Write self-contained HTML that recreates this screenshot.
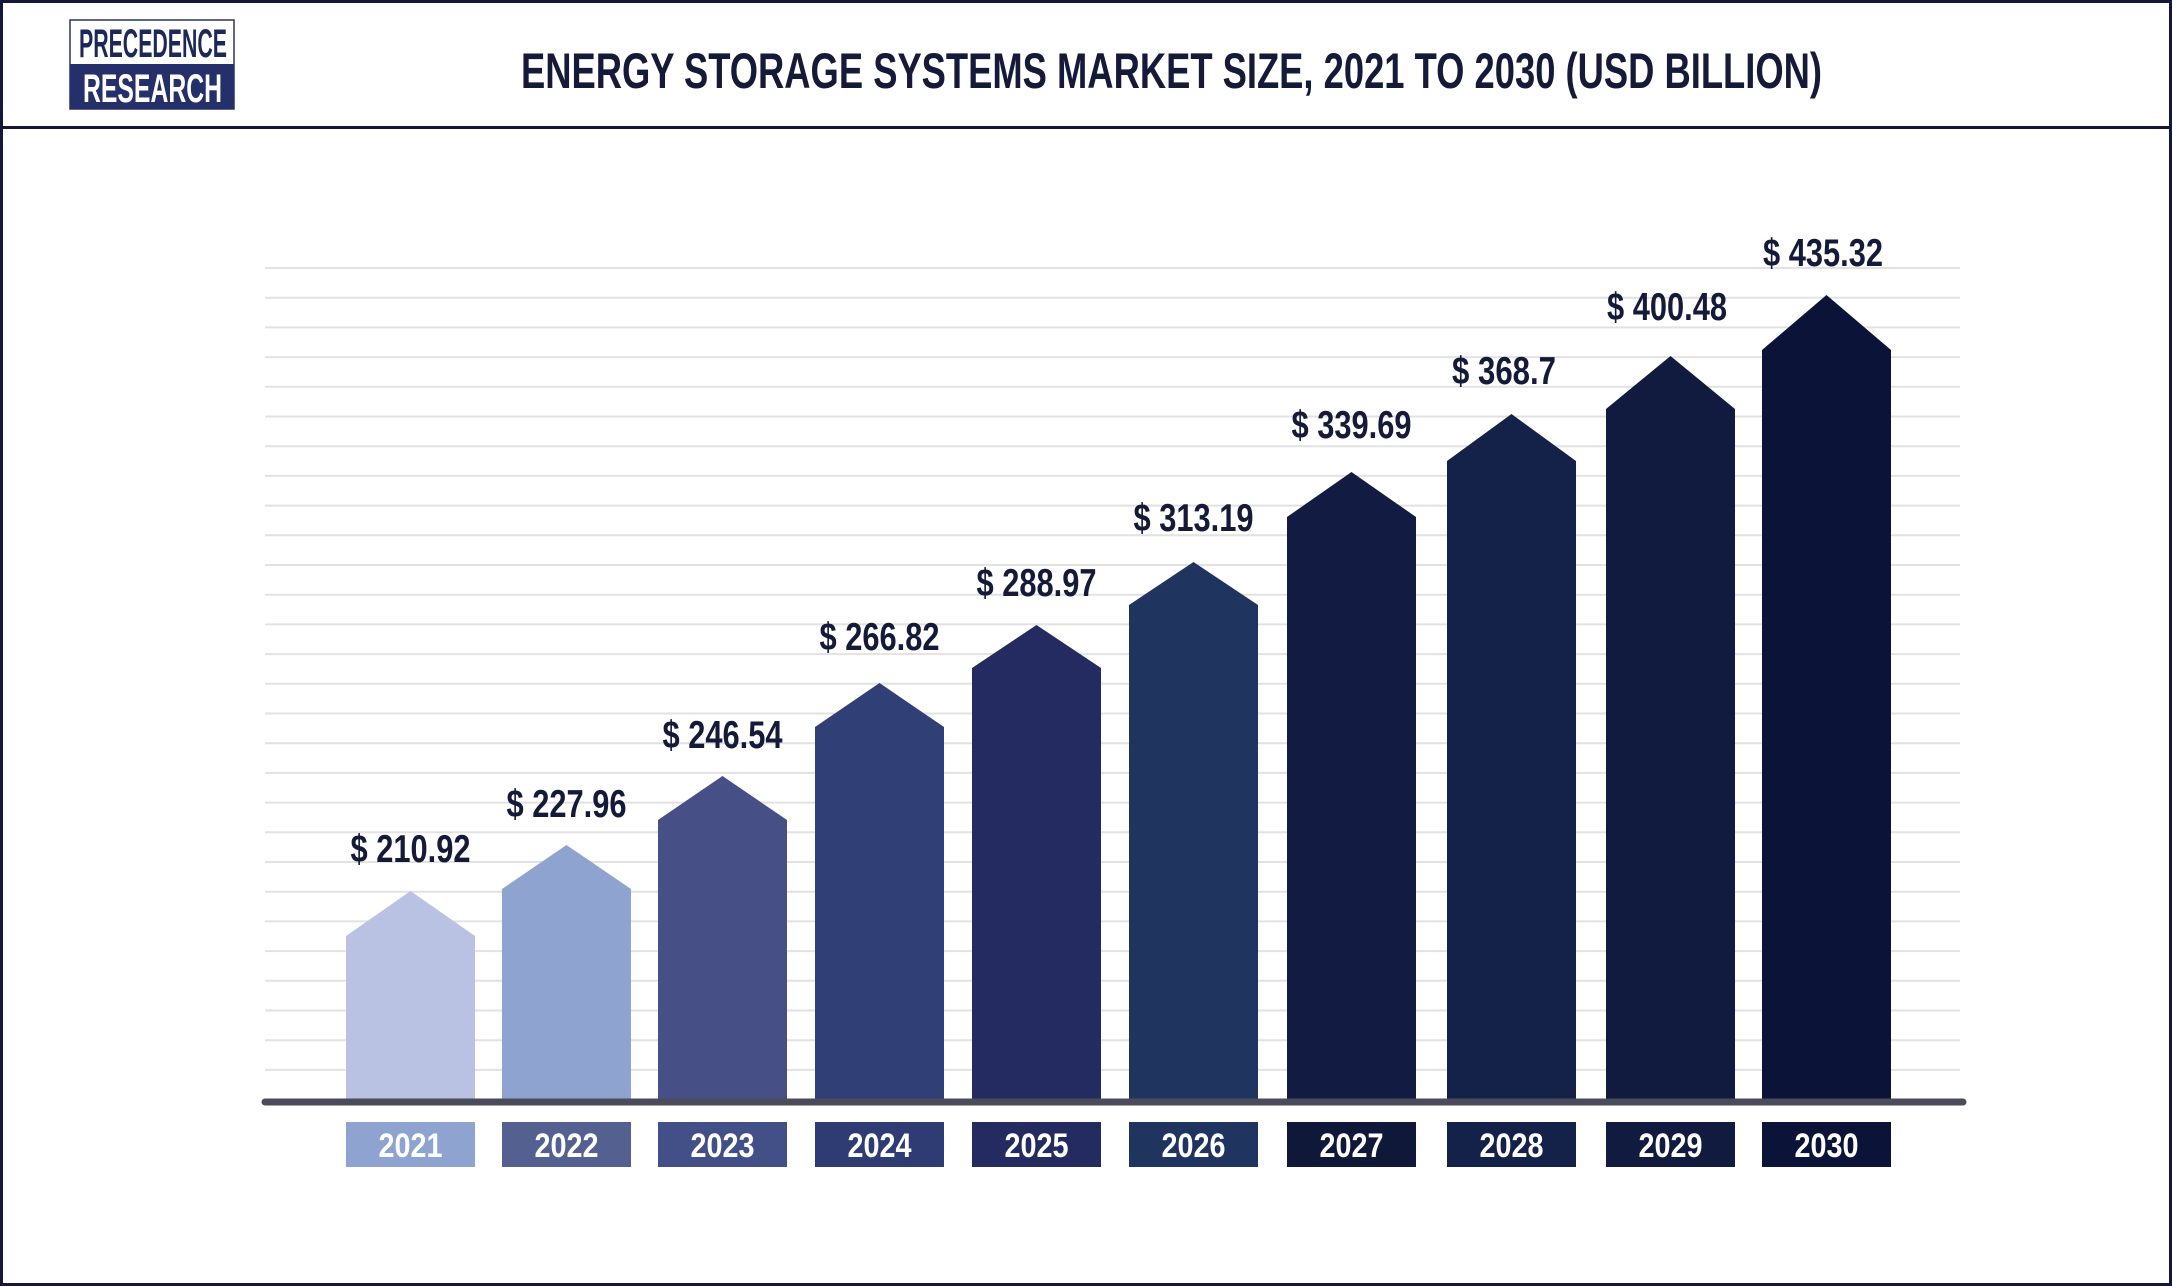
<!DOCTYPE html>
<html><head><meta charset="utf-8"><style>
html,body{margin:0;padding:0;background:#fff}
svg{display:block}
text{font-family:"Liberation Sans Narrow","Liberation Sans",sans-serif;font-weight:bold}
</style></head><body>
<svg width="2172" height="1286" viewBox="0 0 2172 1286" xmlns="http://www.w3.org/2000/svg">
<rect x="0" y="0" width="2172" height="1286" fill="#fff"/>
<rect x="1.5" y="1.5" width="2169" height="1283" fill="none" stroke="#14163a" stroke-width="3"/>
<rect x="0" y="126" width="2172" height="3" fill="#14163a"/>
<!-- logo -->
<rect x="70" y="20" width="164" height="89" fill="#fff" stroke="#2a3468" stroke-width="1.5"/>
<rect x="70" y="64" width="164" height="45" fill="#25306a"/>
<text x="153" y="57" text-anchor="middle" font-size="40" fill="#1e2858" textLength="148" lengthAdjust="spacingAndGlyphs">PRECEDENCE</text>
<text x="152.5" y="102" text-anchor="middle" font-size="40" fill="#fff" textLength="139" lengthAdjust="spacingAndGlyphs">RESEARCH</text>
<!-- title -->
<text x="521" y="88" font-size="50" fill="#141a38" textLength="1301" lengthAdjust="spacingAndGlyphs">ENERGY STORAGE SYSTEMS MARKET SIZE, 2021 TO 2030 (USD BILLION)</text>
<!-- grid -->
<g stroke="#e2e2e2" stroke-width="2">
<line x1="265" x2="1960" y1="268" y2="268"/><line x1="265" x2="1960" y1="297.7" y2="297.7"/><line x1="265" x2="1960" y1="327.4" y2="327.4"/><line x1="265" x2="1960" y1="357.1" y2="357.1"/><line x1="265" x2="1960" y1="386.8" y2="386.8"/><line x1="265" x2="1960" y1="416.5" y2="416.5"/><line x1="265" x2="1960" y1="446.2" y2="446.2"/><line x1="265" x2="1960" y1="475.9" y2="475.9"/><line x1="265" x2="1960" y1="505.6" y2="505.6"/><line x1="265" x2="1960" y1="535.3" y2="535.3"/><line x1="265" x2="1960" y1="565" y2="565"/><line x1="265" x2="1960" y1="594.7" y2="594.7"/><line x1="265" x2="1960" y1="624.4" y2="624.4"/><line x1="265" x2="1960" y1="654.1" y2="654.1"/><line x1="265" x2="1960" y1="683.8" y2="683.8"/><line x1="265" x2="1960" y1="713.5" y2="713.5"/><line x1="265" x2="1960" y1="743.2" y2="743.2"/><line x1="265" x2="1960" y1="772.9" y2="772.9"/><line x1="265" x2="1960" y1="802.6" y2="802.6"/><line x1="265" x2="1960" y1="832.3" y2="832.3"/><line x1="265" x2="1960" y1="862" y2="862"/><line x1="265" x2="1960" y1="891.7" y2="891.7"/><line x1="265" x2="1960" y1="921.4" y2="921.4"/><line x1="265" x2="1960" y1="951.1" y2="951.1"/><line x1="265" x2="1960" y1="980.8" y2="980.8"/><line x1="265" x2="1960" y1="1010.5" y2="1010.5"/><line x1="265" x2="1960" y1="1040.2" y2="1040.2"/><line x1="265" x2="1960" y1="1069.9" y2="1069.9"/>
</g>
<!-- bars -->
<polygon points="346,1100 346,936 410.5,891 475,936 475,1100" fill="#b9c2e2"/>
<polygon points="502,1100 502,889 566.5,845 631,889 631,1100" fill="#8fa3d1"/>
<polygon points="658,1100 658,820 722.5,776 787,820 787,1100" fill="#465086"/>
<polygon points="815,1100 815,727 879.5,683 944,727 944,1100" fill="#303f75"/>
<polygon points="972,1100 972,668 1036.5,625 1101,668 1101,1100" fill="#232b60"/>
<polygon points="1129,1100 1129,605 1193.5,562 1258,605 1258,1100" fill="#1f3560"/>
<polygon points="1287,1100 1287,517 1351.5,472 1416,517 1416,1100" fill="#121c42"/>
<polygon points="1447,1100 1447,461 1511.5,414 1576,461 1576,1100" fill="#14224a"/>
<polygon points="1606,1100 1606,409 1670.5,356 1735,409 1735,1100" fill="#111b3f"/>
<polygon points="1762,1100 1762,350 1826.5,295 1891,350 1891,1100" fill="#0b1438"/>
<!-- axis -->
<line x1="265" x2="1963" y1="1102" y2="1102" stroke="#4a4c5c" stroke-width="7" stroke-linecap="round"/>
<!-- value labels -->
<g font-size="39" fill="#141a38" text-anchor="middle">
<text x="410.5" y="862" textLength="120" lengthAdjust="spacingAndGlyphs">$ 210.92</text>
<text x="566.5" y="817" textLength="120" lengthAdjust="spacingAndGlyphs">$ 227.96</text>
<text x="722.5" y="748" textLength="120" lengthAdjust="spacingAndGlyphs">$ 246.54</text>
<text x="879.5" y="650" textLength="120" lengthAdjust="spacingAndGlyphs">$ 266.82</text>
<text x="1036.5" y="596" textLength="120" lengthAdjust="spacingAndGlyphs">$ 288.97</text>
<text x="1193.5" y="531" textLength="120" lengthAdjust="spacingAndGlyphs">$ 313.19</text>
<text x="1351.5" y="438" textLength="120" lengthAdjust="spacingAndGlyphs">$ 339.69</text>
<text x="1504" y="384" textLength="104" lengthAdjust="spacingAndGlyphs">$ 368.7</text>
<text x="1667" y="320" textLength="120" lengthAdjust="spacingAndGlyphs">$ 400.48</text>
<text x="1823" y="266" textLength="120" lengthAdjust="spacingAndGlyphs">$ 435.32</text>
</g>
<!-- year boxes -->
<rect x="346" y="1122" width="129" height="45" fill="#8fa3d1"/>
<rect x="502" y="1122" width="129" height="45" fill="#54608f"/>
<rect x="658" y="1122" width="129" height="45" fill="#434f87"/>
<rect x="815" y="1122" width="129" height="45" fill="#2f3b73"/>
<rect x="972" y="1122" width="129" height="45" fill="#232b60"/>
<rect x="1129" y="1122" width="129" height="45" fill="#1f3560"/>
<rect x="1287" y="1122" width="129" height="45" fill="#0f1838"/>
<rect x="1447" y="1122" width="129" height="45" fill="#14224a"/>
<rect x="1606" y="1122" width="129" height="45" fill="#111b3f"/>
<rect x="1762" y="1122" width="129" height="45" fill="#0b1438"/>
<g font-size="34" fill="#fff" text-anchor="middle">
<text x="410.5" y="1157" textLength="64" lengthAdjust="spacingAndGlyphs">2021</text>
<text x="566.5" y="1157" textLength="64" lengthAdjust="spacingAndGlyphs">2022</text>
<text x="722.5" y="1157" textLength="64" lengthAdjust="spacingAndGlyphs">2023</text>
<text x="879.5" y="1157" textLength="64" lengthAdjust="spacingAndGlyphs">2024</text>
<text x="1036.5" y="1157" textLength="64" lengthAdjust="spacingAndGlyphs">2025</text>
<text x="1193.5" y="1157" textLength="64" lengthAdjust="spacingAndGlyphs">2026</text>
<text x="1351.5" y="1157" textLength="64" lengthAdjust="spacingAndGlyphs">2027</text>
<text x="1511.5" y="1157" textLength="64" lengthAdjust="spacingAndGlyphs">2028</text>
<text x="1670.5" y="1157" textLength="64" lengthAdjust="spacingAndGlyphs">2029</text>
<text x="1826.5" y="1157" textLength="64" lengthAdjust="spacingAndGlyphs">2030</text>
</g>
</svg>
</body></html>
